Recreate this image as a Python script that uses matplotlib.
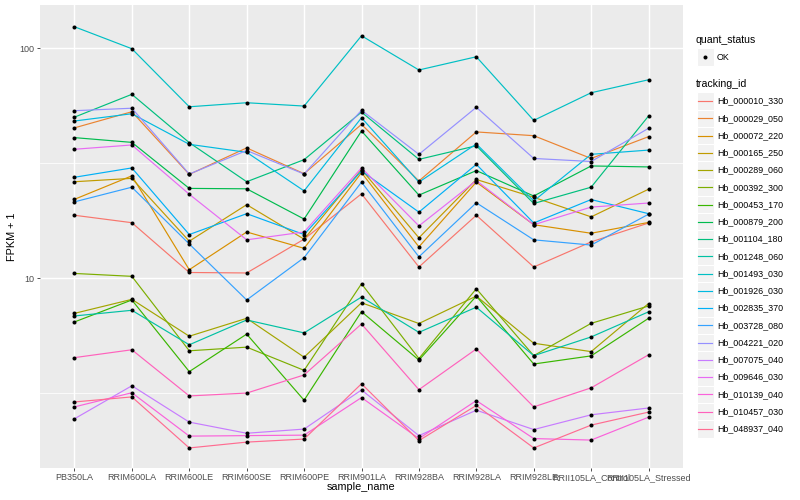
import matplotlib
matplotlib.use("Agg")
import matplotlib.pyplot as plt
from matplotlib.lines import Line2D
from matplotlib.patches import Rectangle
from matplotlib.ticker import FixedLocator, NullFormatter
import numpy as np

plt.rcParams['font.family'] = ['Liberation Sans', 'DejaVu Sans']

samples = ["PB350LA", "RRIM600LA", "RRIM600LE", "RRIM600SE", "RRIM600PE",
           "RRIM901LA", "RRIM928BA", "RRIM928LA", "RRIM928LE",
           "RRII105LA_Control", "RRII105LA_Stressed"]

tracking_ids = ["Hb_000010_330", "Hb_000029_050", "Hb_000072_220", "Hb_000165_250",
                "Hb_000289_060", "Hb_000392_300", "Hb_000453_170", "Hb_000879_200",
                "Hb_001104_180", "Hb_001248_060", "Hb_001493_030", "Hb_001926_030",
                "Hb_002835_370", "Hb_003728_080", "Hb_004221_020", "Hb_007075_040",
                "Hb_009646_030", "Hb_010139_040", "Hb_010457_030", "Hb_048937_040"]

series_colors = ["#F8766D", "#EA8331", "#D89000", "#C09B00", "#A3A500", "#7CAE00",
                 "#39B600", "#00BB4E", "#00BF7D", "#00C1A3", "#00BFC4", "#00BAE0",
                 "#00B0F6", "#35A2FF", "#9590FF", "#C77CFF", "#E76BF3", "#FA62DB",
                 "#FF62BC", "#FF6C91"]

# FPKM + 1 per sample (same order as samples)
hb_000010_330 = [18.8, 17.45, 10.6, 10.55, 14.8, 23.3, 11.2, 18.8, 11.2, 14.4, 17.4]
hb_000029_050 = [45.1, 53.0, 28.3, 36.9, 28.5, 46.7, 26.5, 43.3, 41.7, 33.2, 41.3]
hb_000072_220 = [22.05, 27.9, 10.9, 15.9, 13.5, 28.8, 13.7, 26.2, 17.1, 15.7, 17.5]
hb_000165_250 = [26.3, 27.2, 14.5, 20.9, 14.8, 29.7, 15.0, 26.9, 22.5, 18.5, 24.4]
hb_000289_060 = [7.04, 8.1, 5.6, 6.7, 4.54, 7.83, 6.36, 8.37, 5.22, 4.8, 7.77]
hb_000392_300 = [10.5, 10.2, 4.84, 5.02, 3.98, 9.47, 4.48, 9.01, 4.61, 6.37, 7.58]
hb_000453_170 = [6.46, 8.05, 3.93, 5.72, 2.95, 7.16, 4.41, 8.37, 4.24, 4.6, 6.7]
hb_000879_200 = [40.9, 39.0, 24.6, 24.5, 18.1, 43.7, 23.0, 29.4, 22.8, 30.8, 30.5]
hb_001104_180 = [50.2, 63.1, 38.9, 26.3, 32.8, 52.8, 32.9, 37.7, 21.15, 24.9, 50.8]
hb_001248_060 = [6.86, 7.26, 5.14, 6.59, 5.79, 8.29, 5.82, 7.49, 4.61, 5.56, 7.15]
hb_001493_030 = [124.1, 99.6, 55.7, 58.0, 56.1, 113.4, 80.5, 91.9, 48.6, 64.1, 73.0]
hb_001926_030 = [48.3, 51.95, 38.25, 35.3, 24.0, 49.9, 26.2, 38.4, 21.7, 34.6, 36.1]
hb_002835_370 = [27.5, 30.2, 15.5, 19.1, 15.5, 29.3, 19.4, 31.3, 17.4, 22.0, 19.1]
hb_003728_080 = [21.5, 24.9, 14.1, 8.05, 12.3, 26.2, 12.4, 21.3, 14.7, 13.95, 19.0]
hb_004221_020 = [53.55, 54.9, 28.4, 35.95, 28.4, 53.8, 34.6, 55.4, 33.2, 32.2, 44.9]
hb_007075_040 = [2.45, 3.41, 2.37, 2.12, 2.21, 3.27, 2.07, 2.67, 2.2, 2.55, 2.73]
hb_009646_030 = [36.4, 38.0, 23.2, 14.7, 15.9, 30.2, 16.9, 26.6, 17.1, 20.4, 21.25]
hb_010139_040 = [2.76, 3.18, 2.06, 2.07, 2.08, 3.03, 2.01, 2.94, 2.01, 1.98, 2.49]
hb_010457_030 = [4.52, 4.89, 3.08, 3.17, 3.8, 6.33, 3.28, 4.93, 2.76, 3.34, 4.65]
hb_048937_040 = [2.9, 3.05, 1.83, 1.94, 2.0, 3.48, 1.97, 2.8, 1.83, 2.3, 2.62]

series_values = [hb_000010_330, hb_000029_050, hb_000072_220, hb_000165_250,
                 hb_000289_060, hb_000392_300, hb_000453_170, hb_000879_200,
                 hb_001104_180, hb_001248_060, hb_001493_030, hb_001926_030,
                 hb_002835_370, hb_003728_080, hb_004221_020, hb_007075_040,
                 hb_009646_030, hb_010139_040, hb_010457_030, hb_048937_040]

quant_status = ["OK"]

W, H = 800, 500
fig = plt.figure(figsize=(W / 100, H / 100), dpi=100)
fig.patch.set_facecolor("white")

px_left, px_right, px_top, px_bottom = 40, 683, 5, 468
ax = fig.add_axes([px_left / W, 1 - px_bottom / H,
                   (px_right - px_left) / W, (px_bottom - px_top) / H])
ax.set_facecolor("#EBEBEB")
for sp in ax.spines.values():
    sp.set_visible(False)

ax.set_yscale("log")
ax.set_ylim(1.497, 154.3)
ax.set_xlim(-0.6, len(samples) - 1 + 0.6)

x = np.arange(len(samples))
for vals, col in zip(series_values, series_colors):
    ax.plot(x, vals, color=col, lw=0.85, zorder=3, solid_capstyle="butt")
for vals in series_values:
    ax.plot(x, vals, linestyle="none", marker="o", ms=2.9, color="black",
            markeredgewidth=0, zorder=4)

ax.set_yticks([10, 100])
ax.set_yticklabels(["10", "100"])
ax.yaxis.set_minor_locator(FixedLocator([10 ** 0.5, 10 ** 1.5]))
ax.yaxis.set_minor_formatter(NullFormatter())
ax.set_xticks(x)
ax.set_xticklabels(samples)
ax.set_axisbelow(True)
ax.grid(which="major", color="white", lw=1.05)
ax.grid(which="minor", axis="y", color="white", lw=0.55)
ax.tick_params(which="major", length=2.2, width=0.6, color="#333333",
               labelsize=6.5, labelcolor="#4D4D4D", pad=1.6)
ax.tick_params(which="minor", length=0)

cx = (px_left + px_right) / 2
fig.text(cx / W, 1 - 487 / H, "sample_name", ha="center", va="center",
         fontsize=7.8, color="black")
fig.text(12 / W, 1 - ((px_top + px_bottom) / 2) / H, "FPKM + 1", ha="center",
         va="center", rotation=90, fontsize=7.8, color="black")

# legend
def fx(px):
    return px / W

def fy(py):
    return 1 - py / H

key_x0, key_w, key_h = 696.5, 17.3, 17.3
text_x = 717

fig.text(fx(696), fy(40), "quant_status", ha="left", va="center", fontsize=7.6)
ok_y = 57
fig.add_artist(Rectangle((fx(key_x0), fy(ok_y + key_h / 2)), key_w / W, key_h / H,
                         transform=fig.transFigure, facecolor="#F2F2F2",
                         edgecolor="white", lw=0.8))
fig.add_artist(Line2D([fx(key_x0 + key_w / 2)], [fy(ok_y)], marker="o", ms=2.9,
                      color="black", markeredgewidth=0, transform=fig.transFigure))
fig.text(fx(text_x), fy(ok_y), quant_status[0], ha="left", va="center",
         fontsize=6.4, color="black")

fig.text(fx(696), fy(84), "tracking_id", ha="left", va="center", fontsize=7.6)
first_y, step = 101, 17.26
for i, (tid, col) in enumerate(zip(tracking_ids, series_colors)):
    yc = first_y + i * step
    fig.add_artist(Rectangle((fx(key_x0), fy(yc + key_h / 2)), key_w / W, key_h / H,
                             transform=fig.transFigure, facecolor="#F2F2F2",
                             edgecolor="white", lw=0.8))
    fig.add_artist(Line2D([fx(key_x0 + 1.7), fx(key_x0 + key_w - 1.7)], [fy(yc), fy(yc)],
                          color=col, lw=0.85, transform=fig.transFigure))
    fig.text(fx(text_x), fy(yc), tid, ha="left", va="center", fontsize=6.4,
             color="black")

fig.savefig("out.png", dpi=100, facecolor="white")
